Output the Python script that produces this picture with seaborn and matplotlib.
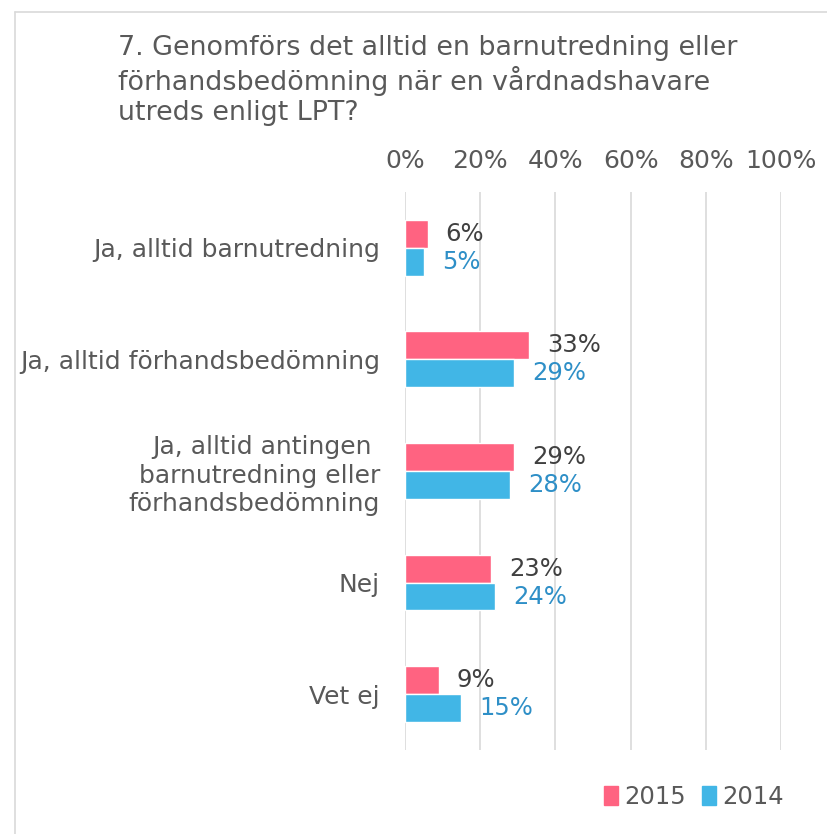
import pandas as pd
import matplotlib
matplotlib.use("Agg")
import matplotlib.pyplot as plt
import seaborn as sns
from matplotlib.lines import Line2D
from matplotlib.patches import Patch

# data
categories = [
    "Ja, alltid barnutredning",
    "Ja, alltid förhandsbedömning",
    "Ja, alltid antingen \nbarnutredning eller\nförhandsbedömning",
    "Nej",
    "Vet ej",
]
years = ["2015", "2014"]
values_2015 = [6, 33, 29, 23, 9]
values_2014 = [5, 29, 28, 24, 15]
x_ticks = [0, 20, 40, 60, 80, 100]

pink = "#FF6381"
blue = "#41B6E6"

df = pd.DataFrame({
    "category": categories * 2,
    "year": ["2015"] * len(categories) + ["2014"] * len(categories),
    "value": values_2015 + values_2014,
})

sns.set_style("white")
plt.rcParams["font.family"] = ["DejaVu Sans"]

fig = plt.figure(figsize=(8.28, 8.34), dpi=100)
ax = fig.add_axes([405 / 828, 1 - 750 / 834, 376 / 828, 558 / 834])

sns.barplot(data=df, y="category", x="value", hue="year", hue_order=years,
            order=categories, palette=[pink, blue], width=0.5, orient="h",
            saturation=1, legend=False, ax=ax)

ax.set_xlim(0, 100)
ax.set_xticks(x_ticks)
ax.set_xticklabels([f"{t}%" for t in x_ticks])
ax.xaxis.tick_top()
ax.tick_params(axis="x", length=0, pad=14, labelsize=18, labelcolor="#595959")
ax.tick_params(axis="y", length=0, pad=18, labelsize=18, labelcolor="#595959")
for lbl in ax.get_yticklabels():
    lbl.set_multialignment("right")
    lbl.set_linespacing(1.22)
ax.set_xlabel("")
ax.set_ylabel("")
ax.grid(axis="x", color="#D9D9D9", linewidth=1.2)
ax.set_axisbelow(True)
for s in ax.spines.values():
    s.set_visible(False)

# value labels
label_colors = ["#404040", "#2E8FC7"]
for cont, col in zip(ax.containers, label_colors):
    ax.bar_label(cont, labels=[f"{v:.0f}%" for v in cont.datavalues],
                 padding=13, fontsize=17.5, color=col)

# title
fig.text(118 / 828, 1 - 35 / 834,
         "7. Genomförs det alltid en barnutredning eller\n"
         "förhandsbedömning när en vårdnadshavare\n"
         "utreds enligt LPT?",
         ha="left", va="top", fontsize=19.4, color="#595959", linespacing=1.2)

# legend
handles = [Patch(color=pink, label="2015"), Patch(color=blue, label="2014")]
fig.legend(handles=handles, loc="center right", bbox_to_anchor=(806 / 828, 1 - 797 / 834),
           ncol=2, frameon=False, fontsize=17.5, handlelength=0.6, handleheight=0.87,
           handletextpad=0.25, columnspacing=0.65, labelcolor="#595959")

# chart frame (top and left edges visible in the crop)
fig.add_artist(Line2D([15 / 828, 15 / 828], [0, 1 - 12 / 834], color="#D9D9D9", linewidth=1.2))
fig.add_artist(Line2D([15 / 828, 1], [1 - 12 / 834, 1 - 12 / 834], color="#D9D9D9", linewidth=1.2))

fig.savefig("out.png", dpi=100)
